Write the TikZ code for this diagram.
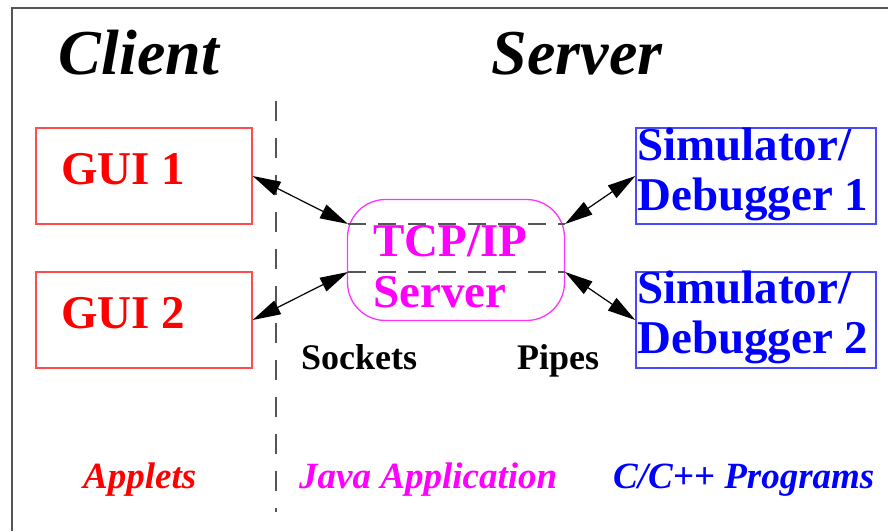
\documentclass[tikz,border=0pt]{standalone}
\usepackage{fontspec}
\setmainfont{Liberation Serif}
\usetikzlibrary{arrows.meta}
\definecolor{framegray}{HTML}{555555}
\definecolor{boxred}{HTML}{FF4C4C}
\definecolor{txtred}{HTML}{FF0000}
\definecolor{boxmag}{HTML}{FF33FF}
\definecolor{txtmag}{HTML}{FF00FF}
\definecolor{boxblue}{HTML}{4848FF}
\definecolor{txtblue}{HTML}{0000FF}
\tikzset{
  framel/.style={draw=framegray, line width=2.2pt},
  sepdash/.style={draw=framegray, line width=1.6pt, dash pattern=on 20pt off 17pt},
  middash/.style={draw=framegray, line width=1.6pt, dash pattern=on 18pt off 12pt},
  guibox/.style={draw=boxred, line width=1.4pt, minimum width=216pt, minimum height=96pt, inner sep=0pt},
  simbox/.style={draw=boxblue, line width=1.4pt, minimum width=240pt, minimum height=96pt, inner sep=0pt},
  srvbox/.style={draw=boxmag, line width=1.3pt, rounded corners=38pt, minimum width=217pt, minimum height=121pt, inner sep=0pt},
  head/.style={anchor=base, inner sep=0pt, font=\fontsize{64}{64}\selectfont\bfseries\itshape},
  boxtxt/.style={anchor=base west, inner sep=0pt, font=\fontsize{47}{47}\selectfont\bfseries},
  smalltxt/.style={anchor=base west, inner sep=0pt, font=\fontsize{36}{36}\selectfont\bfseries},
  foot/.style={anchor=base west, inner sep=0pt, font=\fontsize{37}{37}\selectfont\bfseries\itshape},
  link/.style={{Triangle[length=28pt,width=15pt]}-{Triangle[length=28pt,width=15pt]}, line width=1.2pt, black, shorten <=0pt, shorten >=0pt},
}
\begin{document}
\begin{tikzpicture}[x=1pt, y=-1pt]
\useasboundingbox (0,0) rectangle (888,531);
% frame
\draw[framel] (12,531) -- (12,8) -- (888,8);
% headings
\node[head] (client) at (139,74) {Client};
\node[head] (server) at (577,74) {Server};
% separator
\draw[sepdash] (276,101) -- (276,512);
% boxes
\node[guibox] (gui1) at (144,176) {};
\node[guibox] (gui2) at (144,320) {};
\node[simbox] (sim1) at (756,176) {};
\node[simbox] (sim2) at (756,320) {};
\node[srvbox] (srv) at (456,260) {};
% box texts
\node[boxtxt, text=txtred] (g1t) at (61,184) {GUI 1};
\node[boxtxt, text=txtred] (g2t) at (61,328) {GUI 2};
\node[boxtxt, text=txtmag] (st1) at (373,256) {TCP/IP};
\node[boxtxt, text=txtmag] (st2) at (373,307) {Server};
\node[boxtxt, text=txtblue] (s1a) at (637,160) {Simulator/};
\node[boxtxt, text=txtblue] (s1b) at (637,210) {Debugger 1};
\node[boxtxt, text=txtblue] (s2a) at (637,303) {Simulator/};
\node[boxtxt, text=txtblue] (s2b) at (637,353) {Debugger 2};
% dashed lines through server
\coordinate (tl) at (348,224);
\coordinate (tr) at (565,224);
\coordinate (bl) at (348,272);
\coordinate (br) at (565,272);
\draw[middash] (tl) -- (tr);
\draw[middash] (bl) -- (br);
% connectors
\draw[link] (gui1.east) -- (tl);
\draw[link] (gui2.east) -- (bl);
\draw[link] (tr) -- (sim1.west);
\draw[link] (br) -- (sim2.west);
% labels
\node[smalltxt] (sock) at (301,369) {Sockets};
\node[smalltxt] (pipe) at (517,369) {Pipes};
\node[foot, text=txtred] (app) at (83,488) {Applets};
\node[foot, text=txtmag] (java) at (299,488) {Java Application};
\node[foot, text=txtblue] (cpp) at (613,488) {C/C++ Programs};
\end{tikzpicture}
\end{document}
